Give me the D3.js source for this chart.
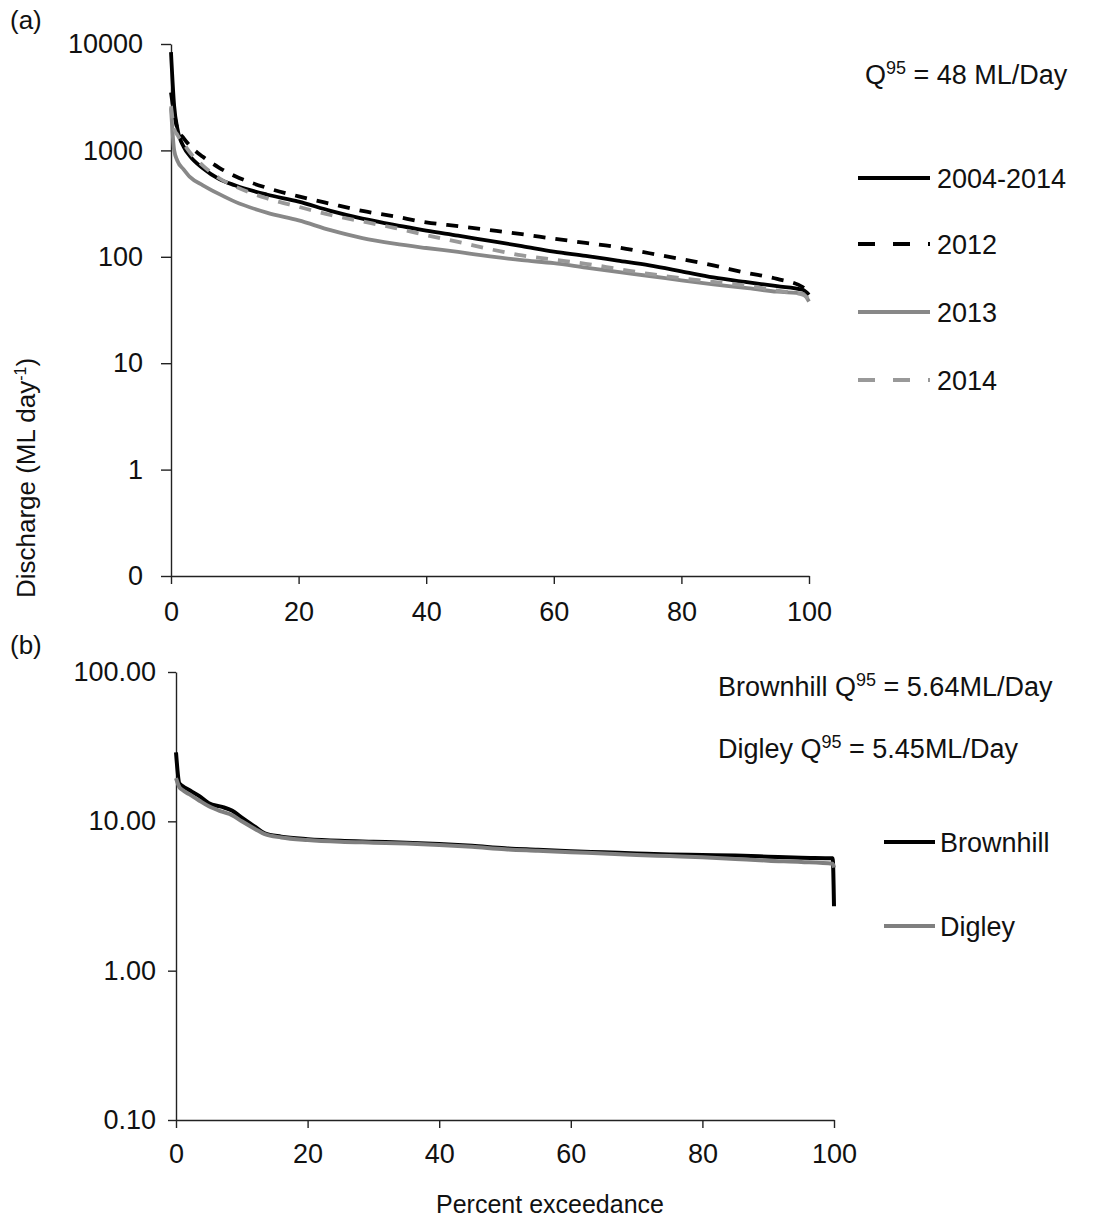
<!DOCTYPE html>
<html>
<head>
<meta charset="utf-8">
<script src="https://cdn.jsdelivr.net/npm/d3@7"></script>
<style>
  body { margin: 0; background: #fff; }
  text { font-family: Arial, "Liberation Sans", sans-serif; fill: #111; }
</style>
</head>
<body>
<div id="chart"></div>
<script>
// ---- data ----
// panel (a): flow duration curves
var pctA = [0, 0.5, 1, 2, 3, 5, 7.5, 10, 15, 20, 25, 30, 35, 40, 45, 50, 55, 60, 65, 70, 75, 80, 85, 90, 95, 99, 100];
var flow0414 = [8400, 2600, 1600, 1080, 880, 680, 540, 470, 385, 330, 270, 228, 200, 176, 158, 141, 126, 112, 102, 92, 83, 73, 64, 58, 53, 49, 44];
var flow2012 = [3500, 2200, 1600, 1300, 1100, 870, 690, 575, 445, 370, 315, 270, 240, 211, 194, 178, 163, 148, 135, 123, 108, 95, 83, 71, 62, 52, 47];
var flow2013 = [2500, 1000, 800, 660, 560, 470, 390, 330, 260, 220, 178, 150, 133, 121, 111, 101, 93, 87, 79, 72, 66, 60, 55, 51, 47, 45, 38];
var flow2014 = [2600, 1600, 1400, 1150, 950, 720, 550, 460, 355, 295, 247, 215, 187, 160, 138, 118, 103, 94, 86, 77, 69, 63, 58, 54, 48, 44, 40];
var yearNames = ["2004-2014", "2012", "2013", "2014"];
var yTicksA = [0.1, 1, 10, 100, 1000, 10000];
var yLabelsA = ["0", "1", "10", "100", "1000", "10000"];

// panel (b): two reservoirs
var pctB = [0, 0.5, 1, 2, 3.5, 5, 7, 8.5, 10, 12, 13.5, 16, 20, 25, 30, 35, 40, 45, 50, 55, 60, 65, 70, 75, 80, 85, 90, 95, 99.8, 100];
var brownhill = [29, 18, 17.2, 16.2, 14.8, 13.2, 12.5, 11.8, 10.6, 9.2, 8.3, 7.9, 7.6, 7.4, 7.3, 7.2, 7.05, 6.85, 6.6, 6.45, 6.3, 6.2, 6.1, 6.0, 5.95, 5.9, 5.8, 5.7, 5.65, 2.7];
var digley = [19.5, 17, 16.2, 15.2, 13.8, 12.6, 11.6, 11.0, 10.0, 8.9, 8.2, 7.8, 7.5, 7.3, 7.2, 7.1, 6.95, 6.75, 6.5, 6.35, 6.2, 6.1, 5.95, 5.85, 5.75, 5.6, 5.45, 5.35, 5.2, 4.9];
var siteNames = ["Brownhill", "Digley"];
var yTicksB = [0.1, 1, 10, 100];
var yLabelsB = ["0.10", "1.00", "10.00", "100.00"];
var xTicks = [0, 20, 40, 60, 80, 100];

var svg = d3.select("#chart").append("svg")
  .attr("width", 1095)
  .attr("height", 1218);

function toPoints(xs, ys) {
  return xs.map(function(d, i) { return {x: d, y: ys[i]}; });
}

function drawAxes(x, y, ticks, labels, yPad, xPad) {
  var yAxis = d3.axisLeft(y)
    .tickValues(ticks)
    .tickFormat(function(d, i) { return labels[i]; })
    .tickSize(yPad.size)
    .tickSizeOuter(0)
    .tickPadding(yPad.pad);
  var gy = svg.append("g")
    .attr("transform", "translate(" + x.range()[0] + ",0)")
    .call(yAxis);

  var xAxis = d3.axisBottom(x)
    .tickValues(xTicks)
    .tickSize(8)
    .tickSizeOuter(0)
    .tickPadding(xPad);
  var gx = svg.append("g")
    .attr("transform", "translate(0," + y.range()[0] + ")")
    .call(xAxis);

  [gx, gy].forEach(function(g) {
    g.selectAll("path, line").attr("stroke", "#222").attr("stroke-width", 1.4);
    g.selectAll("text").style("font-size", "27px").attr("fill", "#111");
  });
}

// ---------------- panel (a) ----------------
var xA = d3.scaleLinear().domain([0, 100]).range([171, 809]);
var yA = d3.scaleLog().domain([0.1, 10000]).range([576, 44]);

drawAxes(xA, yA, yTicksA, yLabelsA, {size: 10, pad: 18}, 18);

var lineA = d3.line()
  .x(function(d) { return xA(d.x); })
  .y(function(d) { return yA(d.y); })
  .curve(d3.curveMonotoneX);

var seriesA = [
  {name: yearNames[0], vals: flow0414, color: "#000", dash: null},
  {name: yearNames[1], vals: flow2012, color: "#000", dash: "12,10"},
  {name: yearNames[2], vals: flow2013, color: "#888", dash: null},
  {name: yearNames[3], vals: flow2014, color: "#999", dash: "12,10"}
];

seriesA.forEach(function(s) {
  svg.append("path")
    .datum(toPoints(pctA, s.vals))
    .attr("fill", "none")
    .attr("stroke", s.color)
    .attr("stroke-width", 3.8)
    .attr("stroke-dasharray", s.dash)
    .attr("d", lineA);
});

// legend (a)
var legA = [178, 244, 312, 380];
seriesA.forEach(function(s, i) {
  svg.append("line")
    .attr("x1", 858).attr("x2", 930)
    .attr("y1", legA[i]).attr("y2", legA[i])
    .attr("stroke", s.color)
    .attr("stroke-width", 3.8)
    .attr("stroke-dasharray", s.dash ? "17,18" : null);
  svg.append("text")
    .attr("x", 937).attr("y", legA[i] + 10)
    .style("font-size", "27px")
    .text(s.name);
});

function qText(xp, yp, before, after) {
  var t = svg.append("text").attr("x", xp).attr("y", yp).style("font-size", "27px");
  t.append("tspan").text(before + "Q");
  t.append("tspan").attr("dy", -10).style("font-size", "18px").text("95");
  t.append("tspan").attr("dy", 10).text(after);
}
qText(865, 84, "", " = 48 ML/Day");

svg.append("text").attr("x", 10).attr("y", 29).style("font-size", "26px").text("(a)");

// y title
var yt = svg.append("text")
  .attr("transform", "translate(35,478) rotate(-90)")
  .attr("text-anchor", "middle")
  .style("font-size", "26px");
yt.append("tspan").text("Discharge (ML day");
yt.append("tspan").attr("dy", -9).style("font-size", "16px").text("-1");
yt.append("tspan").attr("dy", 9).text(")");

// ---------------- panel (b) ----------------
var xB = d3.scaleLinear().domain([0, 100]).range([176, 834]);
var yB = d3.scaleLog().domain([0.1, 100]).range([1120, 672]);

drawAxes(xB, yB, yTicksB, yLabelsB, {size: 8, pad: 12}, 16);

var lineB = d3.line()
  .x(function(d) { return xB(d.x); })
  .y(function(d) { return yB(d.y); })
  .curve(d3.curveMonotoneX);

var seriesB = [
  {name: siteNames[0], vals: brownhill, color: "#000"},
  {name: siteNames[1], vals: digley, color: "#7f7f7f"}
];

seriesB.forEach(function(s) {
  svg.append("path")
    .datum(toPoints(pctB, s.vals))
    .attr("fill", "none")
    .attr("stroke", s.color)
    .attr("stroke-width", 4)
    .attr("d", lineB);
});

var legB = [842, 926];
seriesB.forEach(function(s, i) {
  svg.append("line")
    .attr("x1", 884).attr("x2", 935)
    .attr("y1", legB[i]).attr("y2", legB[i])
    .attr("stroke", s.color)
    .attr("stroke-width", 4);
  svg.append("text")
    .attr("x", 940).attr("y", legB[i] + 10)
    .style("font-size", "27px")
    .text(s.name);
});

qText(718, 696, "Brownhill ", " = 5.64ML/Day");
qText(718, 758, "Digley ", " = 5.45ML/Day");

svg.append("text").attr("x", 10).attr("y", 654).style("font-size", "26px").text("(b)");

svg.append("text")
  .attr("x", 550).attr("y", 1213)
  .attr("text-anchor", "middle")
  .style("font-size", "25px")
  .text("Percent exceedance");
</script>
</body>
</html>
